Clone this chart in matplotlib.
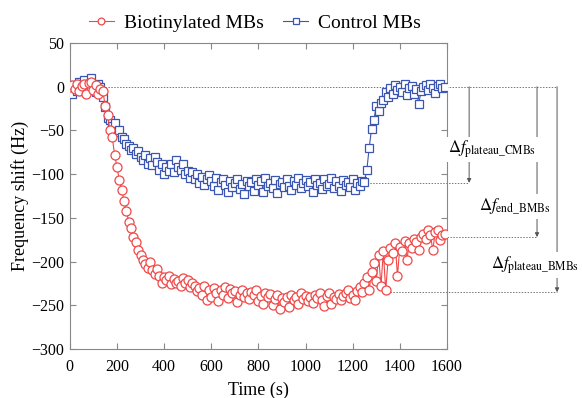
#!/usr/bin/env python3
"""Frequency shift vs time for biotinylated / control MBs"""

import numpy as np
import matplotlib

matplotlib.use("Agg")
import matplotlib.pyplot as plt

plt.rcParams["font.family"] = ["Liberation Serif", "DejaVu Serif"]
plt.rcParams["mathtext.fontset"] = "stix"

# sampling times (s), one reading every 10 s
time_s = np.arange(0, 1600, 10)

# Biotinylated MBs (Hz)
bmb_shift = [
    0, 2, -3, 3, -5, 1, 3, -8, 4, 5,
    -4, 2, -8, -3, -5, -22, -32, -50, -58, -78,
    -92, -107, -118, -131, -142, -155, -162, -172, -178, -187,
    -192, -198, -203, -207, -200, -210, -214, -208, -216, -225,
    -218, -221, -217, -226, -220, -224, -222, -228, -219, -225,
    -221, -229, -224, -228, -234, -230, -238, -228, -244, -232,
    -240, -230, -236, -245, -233, -238, -229, -242, -231, -236,
    -234, -246, -238, -233, -240, -236, -243, -235, -238, -233,
    -245, -239, -248, -236, -241, -237, -250, -243, -238, -254,
    -242, -246, -240, -252, -238, -244, -240, -248, -236, -243,
    -239, -245, -240, -247, -238, -242, -236, -244, -251, -239,
    -236, -248, -240, -243, -237, -244, -239, -236, -233, -242,
    -238, -244, -234, -229, -235, -224, -218, -232, -212, -202,
    -222, -193, -228, -188, -233, -198, -184, -190, -179, -216,
    -183, -188, -176, -198, -179, -184, -174, -178, -187, -172,
    -168, -174, -164, -170, -187, -166, -164, -175, -170, -168,
]

# Control MBs (Hz)
cmb_shift = [
    -3, -8, 2, -5, 5, -2, 8, 3, -4, 10,
    2, -6, 3, 0, -12, -23, -36, -38, -45, -42,
    -52, -50, -57, -60, -65, -68, -72, -70, -77, -74,
    -80, -84, -78, -88, -82, -90, -80, -86, -95, -88,
    -100, -92, -96, -88, -98, -84, -92, -95, -88, -100,
    -96, -104, -98, -106, -100, -110, -103, -112, -106, -101,
    -108, -114, -104, -118, -109, -105, -112, -120, -108, -115,
    -110, -106, -117, -111, -123, -108, -114, -109, -119, -105,
    -112, -108, -120, -104, -114, -110, -116, -107, -122, -111,
    -109, -115, -106, -113, -118, -108, -112, -104, -116, -110,
    -107, -114, -109, -120, -105, -112, -110, -117, -106, -113,
    -111, -104, -116, -108, -113, -119, -107, -112, -109, -115,
    -106, -118, -110, -113, -108, -109, -95, -70, -48, -38,
    -22, -28, -19, -15, -6, -12, -2, -8, 2, -4,
    0, -6, 3, -10, -2, 1, -8, -3, -20, -5,
    0, 2, -4, 3, -1, -7, 1, 3, -2, 0,
]

# reference levels (Hz) used for the delta annotations
plateau_cmb = -110
end_bmb = -172
plateau_bmb = -235

red = "#f04848"
blue = "#3a56b0"

fig = plt.figure(figsize=(5.82, 3.98), dpi=100)
ax = fig.add_axes([0.120, 0.123, 0.648, 0.769])

ax.plot(time_s, cmb_shift, color=blue, lw=0.8, marker="s", ms=6,
        mfc="white", mec=blue, mew=0.9, label="Control MBs", zorder=3)
ax.plot(time_s, bmb_shift, color=red, lw=0.8, marker="o", ms=6.5,
        mfc="white", mec=red, mew=0.9, label="Biotinylated MBs", zorder=4)

ax.set_xlim(0, 1600)
ax.set_ylim(-300, 50)
ax.set_xticks(range(0, 1601, 200))
ax.set_yticks(range(-300, 51, 50))
ax.tick_params(direction="in", top=True, right=True, labelsize=11.5,
               color="#888888", length=4)
ax.tick_params(axis="x", pad=7)
ax.tick_params(axis="y", pad=4)
for sp in ax.spines.values():
    sp.set_color("#888888")
ax.set_xlabel("Time (s)", fontsize=13, labelpad=5)
ax.set_ylabel("Frequency shift (Hz)", fontsize=13, labelpad=2)

# dotted guide lines, running outside the axes on the right
dot = dict(color="#777777", lw=0.7, ls=(0, (1.5, 1.5)), clip_on=False, zorder=2)
ax.plot([0, 2067], [0, 0], **dot)
ax.plot([1250, 1694], [plateau_cmb, plateau_cmb], **dot)
ax.plot([1600, 1982], [end_bmb, end_bmb], **dot)
ax.plot([1358, 2067], [plateau_bmb, plateau_bmb], **dot)

# vertical arrows with labels
arrows = [
    (1694, plateau_cmb, -72, r"$\Delta f_{\mathrm{plateau\_CMBs}}$", 1791, "center"),
    (1982, end_bmb, -137, r"$\Delta f_{\mathrm{end\_BMBs}}$", 1889, "center"),
    (2067, plateau_bmb, -204, r"$\Delta f_{\mathrm{plateau\_BMBs}}$", 2160, "right"),
]
for x, y_end, y_lab, label, x_lab, ha in arrows:
    ax.annotate("", xy=(x, y_end), xytext=(x, 0), annotation_clip=False,
                arrowprops=dict(arrowstyle="-|>", color="#555555", lw=0.7,
                                mutation_scale=6, shrinkA=0, shrinkB=0))
    ax.text(x_lab, y_lab, label, fontsize=12, ha=ha, va="center",
            clip_on=False, zorder=5,
            bbox=dict(facecolor="white", edgecolor="none", pad=1.5))

handles, labels = ax.get_legend_handles_labels()
fig.legend(handles[::-1], labels[::-1], loc="center", ncol=2,
           bbox_to_anchor=(0.438, 0.942), frameon=False, fontsize=14,
           handlelength=1.3, columnspacing=1.0, handletextpad=0.5,
           markerscale=0.75)

fig.savefig("out.png", dpi=100)
plt.close(fig)
